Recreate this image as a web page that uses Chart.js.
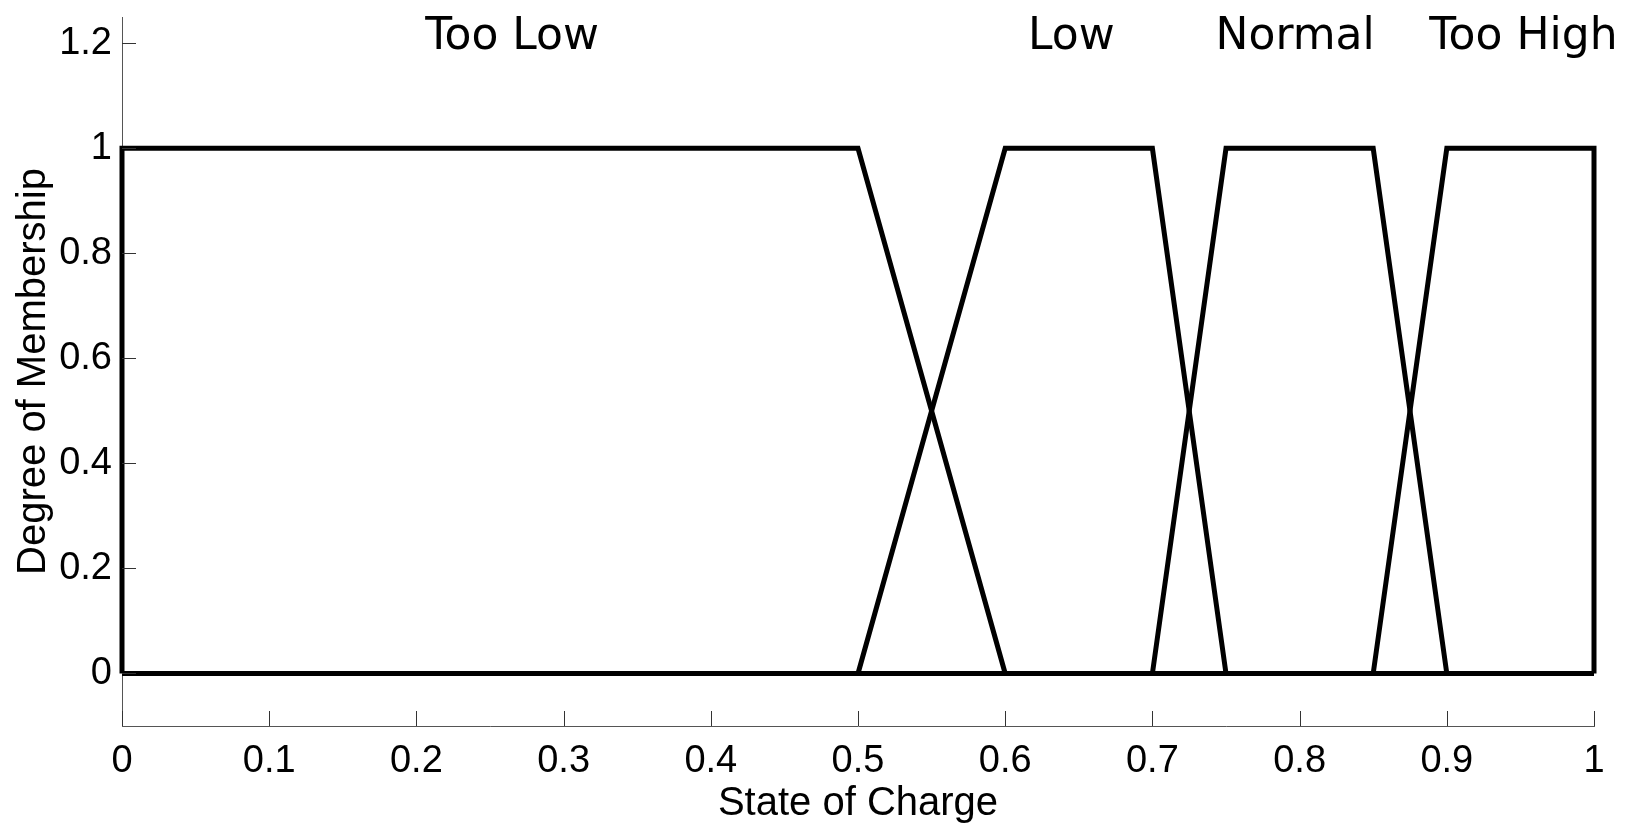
<!DOCTYPE html>
<html lang="en">
<head>
   <meta charset="UTF-8">
   <title>State of Charge membership functions</title>
   <style>
      body { margin: 0; background: #fff; }
      #wrap { width: 1631px; height: 825px; }
   </style>
</head>
<body>
   <div id="wrap">
      <canvas id="myChart"></canvas>
   </div>

   <script src="https://cdn.jsdelivr.net/npm/chart.js"></script>

   <script>
      // membership function corners (x = state of charge, y = degree)
      const tooLowX = [0, 0, 0.5, 0.6];
      const tooLowY = [0, 1, 1, 0];
      const lowX = [0.5, 0.6, 0.7, 0.75];
      const lowY = [0, 1, 1, 0];
      const normalX = [0.7, 0.75, 0.85, 0.9];
      const normalY = [0, 1, 1, 0];
      const tooHighX = [0.85, 0.9, 1, 1];
      const tooHighY = [0, 1, 1, 0];
      const baseX = [0, 1];
      const baseY = [0, 0];

      // set names written above the plot
      const setNames = ['Too Low', 'Low', 'Normal', 'Too High'];
      const nameX = [0.265, 0.645, 0.797, 0.952];
      const nameY = [1.19, 1.19, 1.19, 1.19];

      // ticks
      const xTicks = [0, 0.1, 0.2, 0.3, 0.4, 0.5, 0.6, 0.7, 0.8, 0.9, 1];
      const xTickLabels = ['0', '0.1', '0.2', '0.3', '0.4', '0.5', '0.6', '0.7', '0.8', '0.9', '1'];
      const yTicks = [0, 0.2, 0.4, 0.6, 0.8, 1, 1.2];
      const yTickLabels = ['0', '0.2', '0.4', '0.6', '0.8', '1', '1.2'];

      const pts = (xs, ys) => xs.map((x, i) => ({ x: x, y: ys[i] }));

      function line(data) {
         return {
            data: data,
            showLine: true,
            borderColor: '#000',
            borderWidth: 5,
            borderJoinStyle: 'miter',
            pointRadius: 0,
            tension: 0,
            clip: false
         };
      }

      // inward tick marks and the set names
      const extras = {
         id: 'extras',
         afterDatasetsDraw(chart) {
            const ctx = chart.ctx;
            const xs = chart.scales.x;
            const ys = chart.scales.y;
            const area = chart.chartArea;
            ctx.save();
            ctx.strokeStyle = '#333';
            ctx.lineWidth = 1;
            ctx.beginPath();
            xTicks.forEach(v => {
               const px = Math.round(xs.getPixelForValue(v)) + 0.5;
               ctx.moveTo(px, area.bottom);
               ctx.lineTo(px, area.bottom - 15);
            });
            yTicks.forEach(v => {
               const py = Math.round(ys.getPixelForValue(v)) + 0.5;
               ctx.moveTo(area.left, py);
               ctx.lineTo(area.left + 14, py);
            });
            ctx.stroke();

            ctx.fillStyle = '#000';
            ctx.font = '44px "DejaVu Sans"';
            ctx.textAlign = 'center';
            ctx.textBaseline = 'alphabetic';
            setNames.forEach((name, i) => {
               ctx.fillText(name, xs.getPixelForValue(nameX[i]), ys.getPixelForValue(nameY[i]));
            });
            ctx.restore();
         }
      };

      const tickFont = { family: '"Liberation Sans", Arial, sans-serif', size: 38 };
      const titleFont = { family: '"Liberation Sans", Arial, sans-serif', size: 40, lineHeight: 1 };

      new Chart(document.getElementById('myChart'), {
         type: 'scatter',
         data: {
            datasets: [
               line(pts(baseX, baseY)),
               line(pts(tooLowX, tooLowY)),
               line(pts(lowX, lowY)),
               line(pts(normalX, normalY)),
               line(pts(tooHighX, tooHighY))
            ]
         },
         options: {
            responsive: true,
            maintainAspectRatio: false,
            animation: false,
            layout: { padding: { top: 17, right: 37, left: 0, bottom: 0 } },
            plugins: {
               legend: { display: false },
               tooltip: { enabled: false }
            },
            scales: {
               x: {
                  type: 'linear',
                  min: 0,
                  max: 1,
                  afterBuildTicks: s => { s.ticks = xTicks.map(v => ({ value: v })); },
                  afterFit: s => { s.height = 99; s.paddingLeft = 0; s.paddingRight = 0; },
                  grid: { display: true, drawOnChartArea: false, drawTicks: false },
                  border: { display: true, color: '#555', width: 1 },
                  ticks: {
                     color: '#000',
                     font: tickFont,
                     padding: 13,
                     maxRotation: 0,
                     callback: (v, i) => xTickLabels[i]
                  },
                  title: {
                     display: true,
                     text: 'State of Charge',
                     color: '#000',
                     font: titleFont,
                     padding: { top: 0, bottom: 1 }
                  }
               },
               y: {
                  type: 'linear',
                  min: -0.1,
                  max: 1.25,
                  afterBuildTicks: s => { s.ticks = yTicks.map(v => ({ value: v })); },
                  afterFit: s => { s.width = 122; s.paddingTop = 0; s.paddingBottom = 0; },
                  grid: { display: true, drawOnChartArea: false, drawTicks: false },
                  border: { display: true, color: '#555', width: 1 },
                  ticks: {
                     color: '#000',
                     font: tickFont,
                     padding: 10,
                     callback: (v, i) => yTickLabels[i]
                  },
                  title: {
                     display: true,
                     text: 'Degree of Membership',
                     color: '#000',
                     font: titleFont,
                     padding: { top: 14, bottom: 0 }
                  }
               }
            }
         },
         plugins: [extras]
      });
   </script>
</body>
</html>
